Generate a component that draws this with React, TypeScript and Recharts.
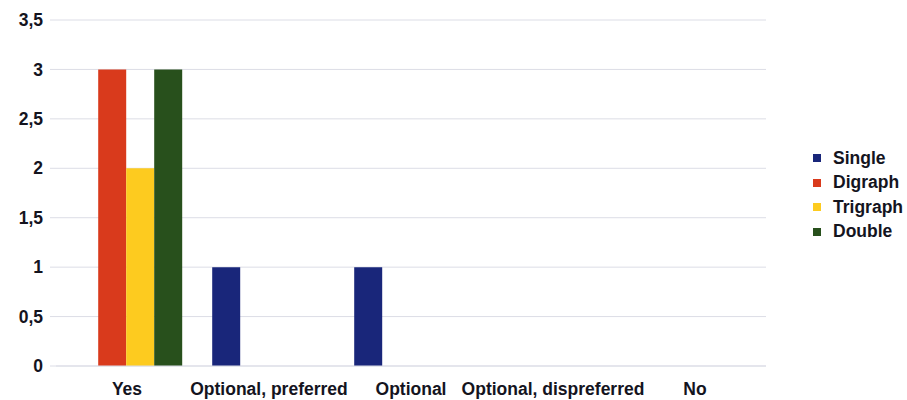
import React from "react";
import { BarChart, Bar, XAxis, YAxis, CartesianGrid } from "recharts";

const categories = ["Yes", "Optional, preferred", "Optional", "Optional, dispreferred", "No"];
const singleValues = [0, 1, 1, 0, 0];
const digraphValues = [3, 0, 0, 0, 0];
const trigraphValues = [2, 0, 0, 0, 0];
const doubleValues = [3, 0, 0, 0, 0];
const yTicks = [0, 0.5, 1, 1.5, 2, 2.5, 3, 3.5];

const seriesDefs = [
  { key: "Single", color: "#19267a" },
  { key: "Digraph", color: "#d93a1c" },
  { key: "Trigraph", color: "#fdcb1f" },
  { key: "Double", color: "#28501c" },
];

const data = categories.map((name, i) => ({
  name,
  Single: singleValues[i],
  Digraph: digraphValues[i],
  Trigraph: trigraphValues[i],
  Double: doubleValues[i],
}));

const FONT = "'Liberation Sans', Arial, Helvetica, sans-serif";
const TEXT = "#14141e";
const GRID = "#dcdde6";

// Vertical legend placed to the right of the plot area
const LegendBox = () => (
  <div
    style={{
      position: "absolute",
      left: 813,
      top: 146,
      fontFamily: FONT,
      fontWeight: 700,
      fontSize: 17.5,
      color: TEXT,
    }}
  >
    {seriesDefs.map((s) => (
      <div key={s.key} style={{ display: "flex", alignItems: "center", height: 24.5 }}>
        <span style={{ width: 8, height: 8, background: s.color, display: "inline-block", marginRight: 12 }} />
        <span>{s.key}</span>
      </div>
    ))}
  </div>
);

export default function App() {
  return (
    <div style={{ position: "absolute", left: 0, top: 0, width: 907, height: 400, background: "#fff" }}>
      <BarChart
        width={907}
        height={400}
        data={data}
        margin={{ top: 20, right: 141, bottom: 0, left: 0 }}
        barGap={0}
        barCategoryGap="10%"
      >
        <CartesianGrid vertical={false} stroke={GRID} />
        <XAxis
          dataKey="name"
          axisLine={{ stroke: GRID }}
          tickLine={false}
          tickSize={6}
          tickMargin={11}
          height={34}
          interval={0}
          tick={{ fill: TEXT, fontFamily: FONT, fontWeight: 700, fontSize: 17.5 }}
        />
        <YAxis
          width={56}
          domain={[0, 3.5]}
          ticks={yTicks}
          axisLine={false}
          tickLine={{ stroke: GRID }}
          tickSize={6}
          tickMargin={7}
          tickFormatter={(v: number) => String(v).replace(".", ",")}
          tick={{ fill: TEXT, fontFamily: FONT, fontWeight: 700, fontSize: 17.5 }}
        />
        {seriesDefs.map((s) => (
          <Bar key={s.key} dataKey={s.key} fill={s.color} isAnimationActive={false} />
        ))}
      </BarChart>
      <LegendBox />
    </div>
  );
}
